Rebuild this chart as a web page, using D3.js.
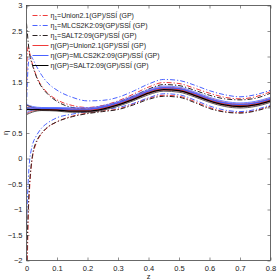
<!DOCTYPE html>
<html>
<head>
<meta charset="utf-8">
<script src="https://cdn.jsdelivr.net/npm/d3@7"></script>
<style>
  body { margin: 0; background: #fff; }
  text { font-family: "Liberation Sans", Arial, sans-serif; fill: #222; }
</style>
</head>
<body>
<svg id="chart"></svg>
<script>
// redshift grids
const zFine = [0, 0.003, 0.006, 0.01, 0.015, 0.02, 0.03, 0.04, 0.05, 0.07, 0.1, 0.15, 0.2,
  0.25, 0.3, 0.35, 0.4, 0.45, 0.5, 0.55, 0.6, 0.65, 0.7, 0.75, 0.8];
const zCoarse = [0, 0.02, 0.05, 0.1, 0.15, 0.2, 0.25, 0.3, 0.35, 0.4, 0.45, 0.5, 0.55, 0.6, 0.65, 0.7, 0.75, 0.8];

// eta_1 bounds (dash-dot), on zFine
const eta1UnionUp = [1.3, 2.1, 2.2, 2.08, 1.95, 1.84, 1.66, 1.52, 1.42, 1.28, 1.15, 1.04, 1.0, 1.04, 1.13, 1.26, 1.4, 1.49, 1.47, 1.38, 1.28, 1.2, 1.17, 1.21, 1.31];
const eta1UnionLo = [-2.4, -1.9, -1.1, -0.6, -0.2, 0.04, 0.27, 0.4, 0.49, 0.61, 0.72, 0.83, 0.89, 0.93, 0.97, 1.07, 1.18, 1.24, 1.22, 1.12, 1.0, 0.92, 0.9, 0.94, 1.03];
const eta1MlcsUp = [1.0, 1.55, 1.85, 1.98, 2.0, 1.96, 1.84, 1.73, 1.63, 1.48, 1.34, 1.2, 1.13, 1.14, 1.2, 1.32, 1.46, 1.55, 1.53, 1.44, 1.33, 1.25, 1.21, 1.25, 1.34];
const eta1MlcsLo = [-1.3, -0.8, -0.4, -0.05, 0.15, 0.28, 0.42, 0.52, 0.6, 0.7, 0.8, 0.87, 0.92, 0.96, 1.0, 1.08, 1.19, 1.27, 1.25, 1.15, 1.03, 0.95, 0.92, 0.96, 1.05];
const eta1SaltUp = [2.65, 2.45, 2.25, 2.05, 1.92, 1.82, 1.64, 1.5, 1.4, 1.26, 1.12, 1.0, 0.97, 1.01, 1.1, 1.22, 1.36, 1.45, 1.43, 1.34, 1.24, 1.17, 1.15, 1.18, 1.28];
const eta1SaltLo = [-2.2, -1.5, -0.95, -0.5, -0.15, 0.08, 0.3, 0.42, 0.5, 0.62, 0.72, 0.82, 0.88, 0.92, 0.96, 1.05, 1.16, 1.22, 1.2, 1.1, 0.98, 0.91, 0.89, 0.93, 1.02];

// eta(GP) mean and bounds (solid), on zCoarse
const etaGpUnion   = [0.97, 0.97, 0.965, 0.96, 0.95, 0.95, 0.99, 1.07, 1.18, 1.3, 1.37, 1.35, 1.26, 1.15, 1.07, 1.04, 1.07, 1.15];
const etaGpUnionUp = [1.04, 1.0, 0.98, 0.98, 0.975, 0.975, 1.015, 1.095, 1.21, 1.33, 1.4, 1.38, 1.29, 1.18, 1.1, 1.07, 1.1, 1.18];
const etaGpUnionLo = [0.88, 0.93, 0.95, 0.94, 0.925, 0.925, 0.965, 1.045, 1.15, 1.27, 1.34, 1.32, 1.23, 1.12, 1.04, 1.01, 1.04, 1.12];
const etaGpMlcs    = [0.99, 0.99, 0.985, 0.98, 0.97, 0.97, 1.01, 1.09, 1.2, 1.32, 1.39, 1.37, 1.28, 1.17, 1.09, 1.06, 1.09, 1.17];
const etaGpMlcsUp  = [1.06, 1.02, 1.0, 1.0, 0.995, 0.995, 1.035, 1.115, 1.23, 1.35, 1.42, 1.4, 1.31, 1.2, 1.12, 1.09, 1.12, 1.2];
const etaGpMlcsLo  = [0.9, 0.95, 0.97, 0.96, 0.945, 0.945, 0.985, 1.065, 1.17, 1.29, 1.36, 1.34, 1.25, 1.14, 1.06, 1.03, 1.06, 1.14];
const etaGpSalt    = [0.96, 0.96, 0.955, 0.95, 0.93, 0.93, 0.97, 1.05, 1.16, 1.28, 1.35, 1.33, 1.24, 1.13, 1.05, 1.02, 1.05, 1.13];
const etaGpSaltUp  = [1.05, 1.0, 0.97, 0.97, 0.955, 0.955, 0.995, 1.075, 1.19, 1.31, 1.38, 1.36, 1.27, 1.16, 1.08, 1.05, 1.08, 1.16];
const etaGpSaltLo  = [0.86, 0.91, 0.94, 0.93, 0.905, 0.905, 0.945, 1.025, 1.13, 1.25, 1.32, 1.3, 1.21, 1.1, 1.02, 0.99, 1.02, 1.1];

const legendLabels = [
  ["η", "1", "=Union2.1(GP)/SSÍ (GP)"],
  ["η", "1", "=MLCS2K2:09(GP)/SSÍ (GP)"],
  ["η", "1", "=SALT2:09(GP)/SSÍ (GP)"],
  ["η(GP)", "", "=Union2.1(GP)/SSÍ (GP)"],
  ["η(GP)", "", "=MLCS2K2:09(GP)/SSÍ (GP)"],
  ["η(GP)", "", "=SALT2:09(GP)/SSÍ (GP)"]
];
const xTicks = [0, 0.1, 0.2, 0.3, 0.4, 0.5, 0.6, 0.7, 0.8];
const yTicks = [-2, -1.5, -1, -0.5, 0, 0.5, 1, 1.5, 2, 2.5, 3];

const colRed = "#ee3b3b", colBlue = "#4a62ff", colBlack = "#2a2222";
const dashDot = "5,2,1.2,2";

const W = 277, H = 280;
const margin = {top: 5.5, right: 6.5, bottom: 19.5, left: 26.5};
const width = W - margin.left - margin.right;
const height = H - margin.top - margin.bottom;

const svg = d3.select("#chart").attr("width", W).attr("height", H);
const g = svg.append("g").attr("transform", `translate(${margin.left},${margin.top})`);

const x = d3.scaleLinear().domain([0, 0.8]).range([0, width]);
const y = d3.scaleLinear().domain([-2, 3]).range([height, 0]);

svg.append("defs").append("clipPath").attr("id", "clip")
  .append("rect").attr("width", width).attr("height", height);

const plot = g.append("g").attr("clip-path", "url(#clip)");

const line = d3.line()
  .x(d => x(d[0]))
  .y(d => y(d[1]))
  .curve(d3.curveMonotoneX);

// series table built from the arrays above
const series = [
  {z: zFine, v: eta1UnionUp, color: colRed, dash: dashDot, w: 1},
  {z: zFine, v: eta1UnionLo, color: colRed, dash: dashDot, w: 1},
  {z: zFine, v: eta1MlcsUp, color: colBlue, dash: dashDot, w: 1},
  {z: zFine, v: eta1MlcsLo, color: colBlue, dash: dashDot, w: 1},
  {z: zFine, v: eta1SaltUp, color: colBlack, dash: dashDot, w: 1},
  {z: zFine, v: eta1SaltLo, color: colBlack, dash: dashDot, w: 1},
  {z: zCoarse, v: etaGpUnionUp, color: colRed, dash: null, w: 0.8},
  {z: zCoarse, v: etaGpUnionLo, color: colRed, dash: null, w: 0.8},
  {z: zCoarse, v: etaGpMlcsUp, color: colBlue, dash: null, w: 0.8},
  {z: zCoarse, v: etaGpMlcsLo, color: colBlue, dash: null, w: 0.8},
  {z: zCoarse, v: etaGpSaltUp, color: "#333", dash: null, w: 0.8},
  {z: zCoarse, v: etaGpSaltLo, color: "#333", dash: null, w: 0.8},
  {z: zCoarse, v: etaGpUnion, color: colRed, dash: null, w: 1.3},
  {z: zCoarse, v: etaGpMlcs, color: colBlue, dash: null, w: 1.3},
  {z: zCoarse, v: etaGpSalt, color: "#000", dash: null, w: 1.3}
];

plot.selectAll(".curve")
  .data(series)
  .join("path")
    .attr("class", "curve")
    .attr("fill", "none")
    .attr("stroke", d => d.color)
    .attr("stroke-width", d => d.w)
    .attr("stroke-dasharray", d => d.dash)
    .attr("d", d => line(d.z.map((z, i) => [z, d.v[i]])));

// axes, matlab style: ticks inside, box on all sides
const fmt = d => String(d).replace("-", "\u2212");
const axisStyle = sel => {
  sel.select(".domain").remove();
  sel.selectAll(".tick line").attr("stroke", "#444").attr("stroke-width", 0.6);
  sel.selectAll(".tick text").attr("font-size", 7.5);
};

g.append("g").attr("transform", `translate(0,${height})`)
  .call(d3.axisBottom(x).tickValues(xTicks).tickSize(-3).tickPadding(5).tickFormat(fmt))
  .call(axisStyle);
g.append("g")
  .call(d3.axisTop(x).tickValues(xTicks).tickSize(-3).tickFormat(""))
  .call(axisStyle);
g.append("g")
  .call(d3.axisLeft(y).tickValues(yTicks).tickSize(-3).tickPadding(4).tickFormat(fmt))
  .call(axisStyle);
g.append("g").attr("transform", `translate(${width},0)`)
  .call(d3.axisRight(y).tickValues(yTicks).tickSize(-3).tickFormat(""))
  .call(axisStyle);

g.append("rect")
  .attr("width", width).attr("height", height)
  .attr("fill", "none").attr("stroke", "#444").attr("stroke-width", 0.8);

// axis titles
g.append("text")
  .attr("x", x(0.4)).attr("y", height + 18)
  .attr("text-anchor", "middle").attr("font-size", 7.5)
  .text("z");
g.append("text")
  .attr("transform", `translate(${-19},${height / 2}) rotate(-90)`)
  .attr("text-anchor", "middle").attr("font-size", 7.5)
  .text("η");

// legend (no box)
const legendItems = [
  {color: colRed, dash: dashDot}, {color: colBlue, dash: dashDot}, {color: colBlack, dash: dashDot},
  {color: colRed, dash: null}, {color: colBlue, dash: null}, {color: "#000", dash: null}
];
const legend = g.append("g").attr("transform", "translate(6,10)");
const rows = legend.selectAll(".row")
  .data(legendItems)
  .join("g")
    .attr("class", "row")
    .attr("transform", (d, i) => `translate(0,${i * 10})`);
rows.append("line")
  .attr("x1", 0).attr("x2", 16)
  .attr("stroke", d => d.color)
  .attr("stroke-width", 1)
  .attr("stroke-dasharray", d => d.dash);
const labels = rows.append("text")
  .attr("x", 18).attr("y", 2.5)
  .attr("font-size", 7);
labels.append("tspan").text((d, i) => legendLabels[i][0]);
labels.append("tspan").attr("font-size", 4.8).attr("dy", 1.5).text((d, i) => legendLabels[i][1]);
labels.append("tspan").attr("dy", (d, i) => legendLabels[i][1] ? -1.5 : 0).text((d, i) => legendLabels[i][2]);
</script>
</body>
</html>
